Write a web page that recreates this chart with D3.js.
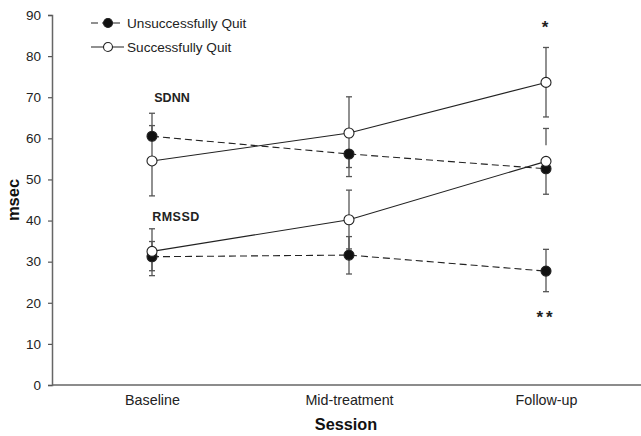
<!DOCTYPE html>
<html>
<head>
<meta charset="utf-8">
<script src="https://cdn.jsdelivr.net/npm/d3@7"></script>
<style>
  body { margin: 0; background: #fff; }
  svg { font-family: "Liberation Sans", Arial, sans-serif; }
</style>
</head>
<body>
<svg width="641" height="436"></svg>
<script>
// sessions on the x axis
var sessions = ["Baseline", "Mid-treatment", "Follow-up"];
var yTicks = [0, 10, 20, 30, 40, 50, 60, 70, 80, 90];

// SDNN
var sdnnUnsuccess = [60.5, 56.2, 52.6];
var sdnnUnsuccessHi = [66.1, 56.2, 52.6];
var sdnnUnsuccessLo = [60.5, 50.7, 46.4];
var sdnnSuccess = [54.5, 61.3, 73.6];
var sdnnSuccessHi = [63.1, 70.1, 82.1];
var sdnnSuccessLo = [46.0, 52.9, 65.2];

// RMSSD
var rmssdUnsuccess = [31.2, 31.6, 27.7];
var rmssdUnsuccessHi = [34.9, 36.1, 33.0];
var rmssdUnsuccessLo = [26.6, 27.0, 22.7];
var rmssdSuccess = [32.5, 40.2, 54.4];
var rmssdSuccessHi = [38.0, 47.4, 62.4];
var rmssdSuccessLo = [27.8, 33.1, 58.3];

var svg = d3.select("svg");
var margins = { top: 15, bottom: 51, left: 52, right: 0 };
var chartWidth = 641 - margins.left - margins.right;
var chartHeight = 436 - margins.top - margins.bottom;

var xScale = d3.scalePoint().domain(sessions).range([1.5, 592.5]).padding(0.5);
var yScale = d3.scaleLinear().domain([0, 90]).range([chartHeight, 0]);

var g = svg.append("g")
    .attr("transform", "translate(" + margins.left + "," + margins.top + ")");

// axes
var xAxis = g.append("g").attr("transform", "translate(0," + chartHeight + ")")
    .call(d3.axisBottom(xScale).tickSize(0).tickPadding(10));
var yAxis = g.append("g").call(d3.axisLeft(yScale).tickValues(yTicks).tickSize(4).tickPadding(7));
xAxis.select(".domain").attr("d", "M0,0H" + chartWidth);
[yAxis, xAxis].forEach(function (a) {
    a.select(".domain").attr("stroke", "#666").attr("stroke-width", 1.5);
    a.selectAll(".tick line").attr("stroke", "#555").attr("stroke-width", 1.2);
    a.selectAll("text").attr("fill", "#222")
        .style("font-family", "'Liberation Sans', Arial, sans-serif");
});
yAxis.selectAll("text").style("font-size", "13.5px");
xAxis.selectAll("text").style("font-size", "14.3px");

function series(vals, hi, lo, filled) {
    var pts = vals.map(function (v, i) { return { s: sessions[i], v: v, hi: hi[i], lo: lo[i] }; });

    // error bars
    var eb = g.append("g").selectAll("g").data(pts).enter().append("g")
        .attr("stroke", "#555").attr("stroke-width", 1.3);
    eb.append("line")
        .attr("x1", function (d) { return xScale(d.s); })
        .attr("x2", function (d) { return xScale(d.s); })
        .attr("y1", function (d) { return yScale(d.hi); })
        .attr("y2", function (d) { return yScale(d.lo); });
    eb.filter(function (d) { return d.hi > d.v; }).append("line")
        .attr("x1", function (d) { return xScale(d.s) - 3; })
        .attr("x2", function (d) { return xScale(d.s) + 3; })
        .attr("y1", function (d) { return yScale(d.hi); })
        .attr("y2", function (d) { return yScale(d.hi); });
    eb.filter(function (d) { return d.lo < d.v; }).append("line")
        .attr("x1", function (d) { return xScale(d.s) - 3; })
        .attr("x2", function (d) { return xScale(d.s) + 3; })
        .attr("y1", function (d) { return yScale(d.lo); })
        .attr("y2", function (d) { return yScale(d.lo); });

    var line = d3.line().x(function (d) { return xScale(d.s); }).y(function (d) { return yScale(d.v); });
    g.append("path").datum(pts)
        .attr("d", line)
        .attr("fill", "none")
        .attr("stroke", "#222")
        .attr("stroke-width", 1.1)
        .attr("stroke-dasharray", filled ? "7,4" : null);

    return pts;
}

function dots(pts, filled) {
    g.append("g").selectAll("circle").data(pts).enter().append("circle")
        .attr("cx", function (d) { return xScale(d.s); })
        .attr("cy", function (d) { return yScale(d.v); })
        .attr("r", 5)
        .attr("fill", filled ? "#111" : "#fff")
        .attr("stroke", "#222")
        .attr("stroke-width", 1.1);
}

var p1 = series(sdnnUnsuccess, sdnnUnsuccessHi, sdnnUnsuccessLo, true);
var p2 = series(sdnnSuccess, sdnnSuccessHi, sdnnSuccessLo, false);
var p3 = series(rmssdUnsuccess, rmssdUnsuccessHi, rmssdUnsuccessLo, true);
var p4 = series(rmssdSuccess, rmssdSuccessHi, rmssdSuccessLo, false);
dots(p1, true);
dots(p3, true);
dots(p2, false);
dots(p4, false);

// labels
g.append("text").attr("x", xScale("Baseline") + 20).attr("y", yScale(70) + 5)
    .attr("text-anchor", "middle").style("font-size", "12.5px").style("font-weight", "bold")
    .attr("fill", "#222").text("SDNN");
g.append("text").attr("x", xScale("Baseline") + 24).attr("y", yScale(40.5) + 2)
    .attr("text-anchor", "middle").style("font-size", "12.5px").style("font-weight", "bold")
    .style("letter-spacing", "0.5px").attr("fill", "#222").text("RMSSD");
g.append("text").attr("x", xScale("Follow-up") - 1).attr("y", 33 - margins.top)
    .attr("text-anchor", "middle").style("font-size", "17px").style("font-weight", "bold")
    .attr("fill", "#222").text("*");
g.append("text").attr("x", xScale("Follow-up")).attr("y", 323 - margins.top)
    .attr("text-anchor", "middle").style("font-size", "17px").style("letter-spacing", "3px")
    .style("font-weight", "bold").attr("fill", "#222").text("**");

// legend
var legend = [{ name: "Unsuccessfully Quit", filled: true }, { name: "Successfully Quit", filled: false }];
var lg = svg.append("g").selectAll("g").data(legend).enter().append("g")
    .attr("transform", function (d, i) { return "translate(91," + (23 + i * 24) + ")"; });
lg.append("line").attr("x1", 0).attr("x2", 33).attr("y1", 0).attr("y2", 0)
    .attr("stroke", "#222").attr("stroke-width", 1.1)
    .attr("stroke-dasharray", function (d) { return d.filled ? "7,4" : null; });
lg.append("circle").attr("cx", 17).attr("cy", 0).attr("r", 4.5)
    .attr("fill", function (d) { return d.filled ? "#111" : "#fff"; })
    .attr("stroke", "#222").attr("stroke-width", 1.1);
lg.append("text").attr("x", 36).attr("y", 5).style("font-size", "13.6px").attr("fill", "#222")
    .text(function (d) { return d.name; });

// axis titles
svg.append("text").attr("x", 346).attr("y", 430).attr("text-anchor", "middle")
    .style("font-size", "16.3px").style("font-weight", "bold").attr("fill", "#111").text("Session");
svg.append("text").attr("transform", "translate(19,200) rotate(-90)").attr("text-anchor", "middle")
    .style("font-size", "16.5px").style("font-weight", "bold").attr("fill", "#111").text("msec");
</script>
</body>
</html>
